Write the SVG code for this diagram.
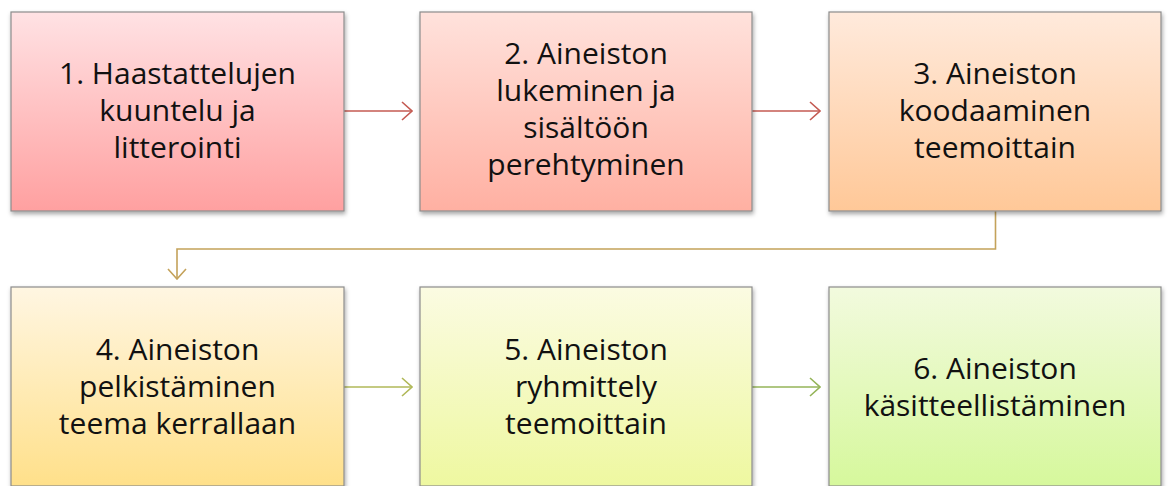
<svg xmlns="http://www.w3.org/2000/svg" width="1168" height="486" viewBox="0 0 1168 486">
  <style>
    .box { stroke: #8c8c8c; stroke-width: 1.2; filter: url(#shadow); }
    .label { font-family: "Open Sans", "Noto Sans", "Liberation Sans", sans-serif; font-size: 30px; fill: #111; text-anchor: middle; }
    .conn { fill: none; stroke-width: 1.6; }
  </style>
  <defs>
    <filter id="shadow" x="-5%" y="-5%" width="112%" height="115%">
      <feDropShadow dx="1" dy="2.5" stdDeviation="2" flood-color="#000" flood-opacity="0.35"/>
    </filter>
    <linearGradient id="g1" x1="0" y1="0" x2="0" y2="1">
      <stop offset="0" stop-color="#ffe2e4"/>
      <stop offset="1" stop-color="#ffa0a0"/>
    </linearGradient>
    <linearGradient id="g2" x1="0" y1="0" x2="0" y2="1">
      <stop offset="0" stop-color="#ffe2dc"/>
      <stop offset="1" stop-color="#ffb0a2"/>
    </linearGradient>
    <linearGradient id="g3" x1="0" y1="0" x2="0" y2="1">
      <stop offset="0" stop-color="#ffeadc"/>
      <stop offset="1" stop-color="#ffc898"/>
    </linearGradient>
    <linearGradient id="g4" x1="0" y1="0" x2="0" y2="1">
      <stop offset="0" stop-color="#fff6e2"/>
      <stop offset="1" stop-color="#ffe08a"/>
    </linearGradient>
    <linearGradient id="g5" x1="0" y1="0" x2="0" y2="1">
      <stop offset="0" stop-color="#fbfbe2"/>
      <stop offset="1" stop-color="#eef8a0"/>
    </linearGradient>
    <linearGradient id="g6" x1="0" y1="0" x2="0" y2="1">
      <stop offset="0" stop-color="#f2fade"/>
      <stop offset="1" stop-color="#d6f89c"/>
    </linearGradient>
    <marker id="ah-red" viewBox="0 0 12 20" refX="11" refY="10" markerWidth="12" markerHeight="20" markerUnits="userSpaceOnUse" orient="auto">
      <path d="M1,1 L11,10 L1,19" fill="none" stroke="#c45a52" stroke-width="1.6"/>
    </marker>
    <marker id="ah-gold" viewBox="0 0 12 20" refX="11" refY="10" markerWidth="12" markerHeight="20" markerUnits="userSpaceOnUse" orient="auto">
      <path d="M1,1 L11,10 L1,19" fill="none" stroke="#c4a25a" stroke-width="1.6"/>
    </marker>
    <marker id="ah-olive" viewBox="0 0 12 20" refX="11" refY="10" markerWidth="12" markerHeight="20" markerUnits="userSpaceOnUse" orient="auto">
      <path d="M1,1 L11,10 L1,19" fill="none" stroke="#b0b858" stroke-width="1.6"/>
    </marker>
    <marker id="ah-green" viewBox="0 0 12 20" refX="11" refY="10" markerWidth="12" markerHeight="20" markerUnits="userSpaceOnUse" orient="auto">
      <path d="M1,1 L11,10 L1,19" fill="none" stroke="#94b458" stroke-width="1.6"/>
    </marker>
  </defs>

  <rect width="1168" height="486" fill="#ffffff"/>

  <!-- connectors between the steps -->
  <g id="connectors">
    <line class="conn" x1="344" y1="111" x2="412" y2="111" stroke="#c45a52" marker-end="url(#ah-red)"/>
    <line class="conn" x1="752" y1="111" x2="820" y2="111" stroke="#c45a52" marker-end="url(#ah-red)"/>
    <polyline class="conn" points="995.5,211 995.5,249 177,249 177,279" stroke="#c4a25a" marker-end="url(#ah-gold)"/>
    <line class="conn" x1="344" y1="387" x2="412" y2="387" stroke="#b0b858" marker-end="url(#ah-olive)"/>
    <line class="conn" x1="752" y1="387" x2="820" y2="387" stroke="#94b458" marker-end="url(#ah-green)"/>
  </g>

  <!-- step 1 -->
  <g id="step1">
    <rect class="box" x="11" y="12" width="333" height="199" fill="url(#g1)"/>
    <text class="label" x="177.5" y="84">1. Haastattelujen</text>
    <text class="label" x="177.5" y="121">kuuntelu ja</text>
    <text class="label" x="177.5" y="158">litterointi</text>
  </g>

  <!-- step 2 -->
  <g id="step2">
    <rect class="box" x="420" y="12" width="332" height="199" fill="url(#g2)"/>
    <text class="label" x="586" y="64">2. Aineiston</text>
    <text class="label" x="586" y="101">lukeminen ja</text>
    <text class="label" x="586" y="138">sisältöön</text>
    <text class="label" x="586" y="175">perehtyminen</text>
  </g>

  <!-- step 3 -->
  <g id="step3">
    <rect class="box" x="829" y="12" width="332" height="199" fill="url(#g3)"/>
    <text class="label" x="995" y="84">3. Aineiston</text>
    <text class="label" x="995" y="121">koodaaminen</text>
    <text class="label" x="995" y="158">teemoittain</text>
  </g>

  <!-- step 4 -->
  <g id="step4">
    <rect class="box" x="11" y="287" width="333" height="199" fill="url(#g4)"/>
    <text class="label" x="177.5" y="360">4. Aineiston</text>
    <text class="label" x="177.5" y="397">pelkistäminen</text>
    <text class="label" x="177.5" y="434">teema kerrallaan</text>
  </g>

  <!-- step 5 -->
  <g id="step5">
    <rect class="box" x="420" y="287" width="332" height="199" fill="url(#g5)"/>
    <text class="label" x="586" y="360">5. Aineiston</text>
    <text class="label" x="586" y="397">ryhmittely</text>
    <text class="label" x="586" y="434">teemoittain</text>
  </g>

  <!-- step 6 -->
  <g id="step6">
    <rect class="box" x="829" y="287" width="332" height="199" fill="url(#g6)"/>
    <text class="label" x="995" y="379">6. Aineiston</text>
    <text class="label" x="995" y="416">käsitteellistäminen</text>
  </g>
</svg>
